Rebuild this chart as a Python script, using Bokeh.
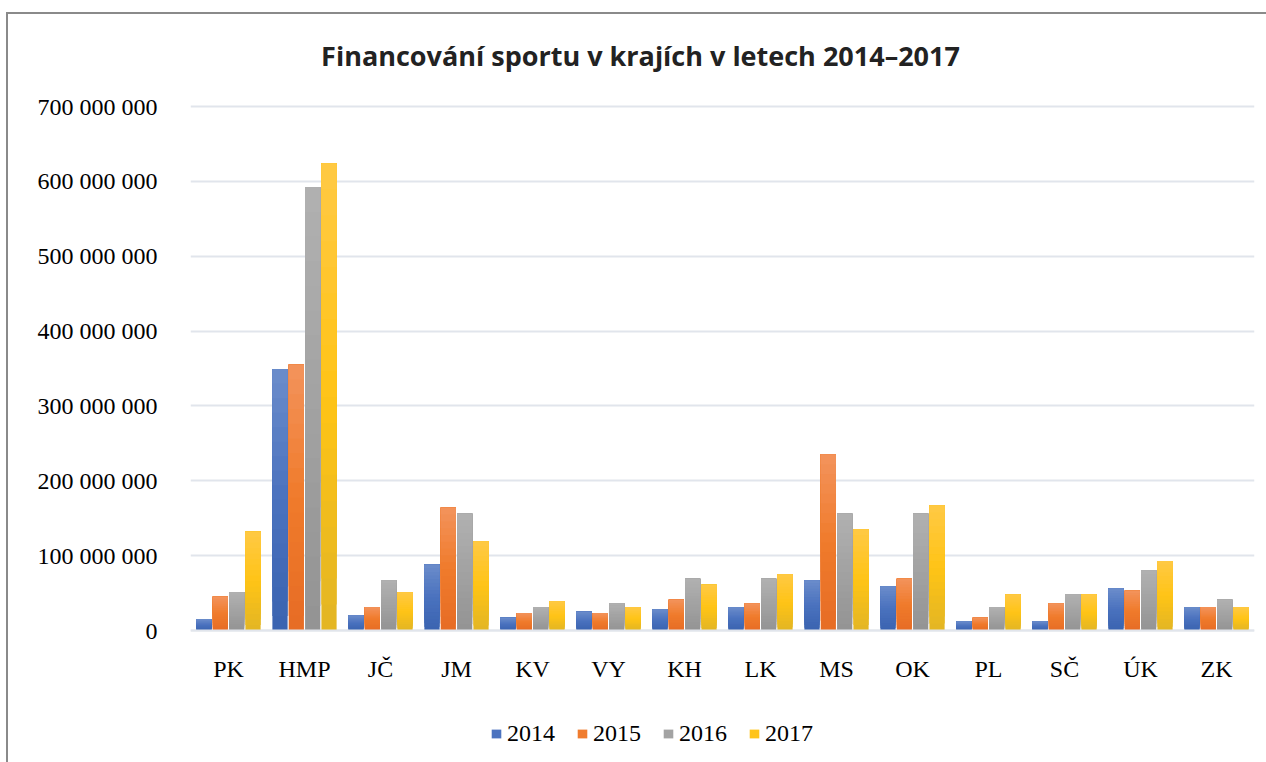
from bokeh.plotting import figure
from bokeh.models import (ColumnDataSource, FixedTicker, Legend, LegendItem,
                          Span, Range1d, Label, InlineStyleSheet)
from bokeh.core.properties import value
from bokeh.embed import file_html
from bokeh.resources import INLINE

# --- data -----------------------------------------------------------------
regions = ["PK", "HMP", "JČ", "JM", "KV", "VY", "KH", "LK", "MS", "OK",
           "PL", "SČ", "ÚK", "ZK"]
years = ["2014", "2015", "2016", "2017"]

v2014 = [15e6, 349e6, 20e6, 88e6, 17e6, 25e6, 28e6, 31e6, 67e6, 59e6,
         12e6, 12e6, 56e6, 31e6]
v2015 = [45e6, 355e6, 31e6, 164e6, 23e6, 23e6, 41e6, 36e6, 235e6, 69e6,
         17e6, 36e6, 53e6, 31e6]
v2016 = [51e6, 592e6, 67e6, 156e6, 31e6, 36e6, 69e6, 69e6, 156e6, 156e6,
         31e6, 48e6, 80e6, 41e6]
v2017 = [132e6, 624e6, 51e6, 119e6, 39e6, 31e6, 61e6, 75e6, 135e6, 167e6,
         48e6, 48e6, 93e6, 31e6]

y_ticks = [0, 100000000, 200000000, 300000000, 400000000, 500000000,
           600000000, 700000000]
y_tick_labels = ["0", "100 000 000", "200 000 000", "300 000 000",
                 "400 000 000", "500 000 000", "600 000 000", "700 000 000"]

title_text = "Financování sportu v krajích v letech 2014–2017"

# --- layout & styling -----------------------------------------------------
W, H = 1266, 762
PLOT_LEFT, PLOT_RIGHT = 190, 1254       # horizontal extent of the value area
Y_TOP_PX, Y_ZERO_PX = 106, 630          # pixel rows of the top tick and of zero
Y_MAX = y_ticks[-1]

# (bottom, middle, top) colours of each series' vertical gradient
gradients = [
    ("#3a63b0", "#4a72be", "#6b8ccb"),
    ("#e66c25", "#f07b2b", "#f3935c"),
    ("#939393", "#a2a2a2", "#b1b1b1"),
    ("#e2b524", "#ffc416", "#ffc945"),
]
SERIF = "Liberation Serif"
N_STEPS = 18
BAR_W = 0.2
BAR_STEP = 0.215

units_per_px = Y_MAX / (Y_ZERO_PX - Y_TOP_PX)
y_lo = -(H - Y_ZERO_PX) * units_per_px
y_hi = Y_ZERO_PX * units_per_px


def _rgb(h):
    h = h.lstrip("#")
    return [int(h[i:i + 2], 16) for i in (0, 2, 4)]


def _mix(a, b, t):
    ca, cb = _rgb(a), _rgb(b)
    return "#%02x%02x%02x" % tuple(round(x + (y - x) * t) for x, y in zip(ca, cb))


def shade(stops, f):
    lo, mid, hi = stops
    if f < 0.5:
        return _mix(lo, mid, f / 0.5)
    return _mix(mid, hi, (f - 0.5) / 0.5)


# thin grey frame along the top and left edge of the chart area
frame_css = InlineStyleSheet(css="""
:host { position: relative; }
:host::before {
  content: "";
  position: absolute;
  left: 6px; top: 12px; width: 1258px; height: 748px;
  border-left: 2px solid #8a8a8a; border-top: 2px solid #8a8a8a;
  pointer-events: none; z-index: 5;
}
""")

p = figure(width=W, height=H, output_backend="svg", toolbar_location=None,
           x_range=Range1d(0, len(regions)), y_range=Range1d(y_lo, y_hi),
           min_border_left=PLOT_LEFT, min_border_right=W - PLOT_RIGHT,
           min_border_top=0, min_border_bottom=0, stylesheets=[frame_css])
p.outline_line_color = None
p.background_fill_color = "white"
p.border_fill_color = "white"
p.xaxis.visible = False

# y axis / grid
p.yaxis.ticker = FixedTicker(ticks=y_ticks)
p.yaxis.major_label_overrides = dict(zip(y_ticks, y_tick_labels))
p.yaxis.axis_line_color = None
p.yaxis.major_tick_line_color = None
p.yaxis.minor_tick_line_color = None
p.yaxis.major_label_standoff = 27
p.yaxis.major_label_text_font = SERIF
p.yaxis.major_label_text_font_size = "24px"
p.yaxis.major_label_text_color = "#000000"
p.ygrid.ticker = FixedTicker(ticks=y_ticks)
p.ygrid.grid_line_color = "#e1e5ec"
p.ygrid.grid_line_width = 2
p.xgrid.visible = False

# bars: stacked-over slices (each from its level up to the bar top) give a
# seamless vertical gradient
x_centers = [i + 0.5 for i in range(len(regions))]
legend_items = []
for j, (year, vals) in enumerate(zip(years, [v2014, v2015, v2016, v2017])):
    xs, bottoms, tops, colors = [], [], [], []
    for k in range(N_STEPS):
        for i, v in enumerate(vals):
            xs.append(x_centers[i] + (j - 1.5) * BAR_STEP)
            bottoms.append(v * k / N_STEPS)
            tops.append(v)
            colors.append(shade(gradients[j], (k + 0.5) / N_STEPS))
    src = ColumnDataSource(dict(x=xs, bottom=bottoms, top=tops, color=colors))
    r = p.vbar(x="x", bottom="bottom", top="top", width=BAR_W, source=src,
               fill_color="color", line_color=None)
    legend_items.append(LegendItem(label=year, renderers=[r],
                                   index=(N_STEPS // 2) * len(regions)))

p.add_layout(Span(location=0, dimension="width", line_color="#e1e5ec",
                  line_width=2, level="overlay"))

# category labels under the zero line
p.text(x=x_centers, y=[0] * len(regions), text=regions, y_offset=38,
       text_align="center", text_baseline="alphabetic",
       text_font=value(SERIF), text_font_size="24px", text_color="#000000")

legend = Legend(items=legend_items, orientation="horizontal",
                location=(300, 15), border_line_alpha=0,
                background_fill_alpha=0, padding=0, margin=0,
                spacing=21, label_standoff=5, glyph_width=12, glyph_height=11,
                label_text_font=SERIF, label_text_font_size="24px",
                label_text_color="#000000")
p.add_layout(legend, "center")

title_x = (640 - PLOT_LEFT) / ((PLOT_RIGHT - PLOT_LEFT) / len(regions))
title_y = (Y_ZERO_PX - 55) * units_per_px
p.add_layout(Label(x=title_x, y=title_y, text=title_text, text_align="center",
                   text_baseline="alphabetic", text_font="Open Sans",
                   text_font_style="bold", text_font_size="27px",
                   text_color="#222222"))

open("out.html", "w").write(file_html(p, INLINE))
